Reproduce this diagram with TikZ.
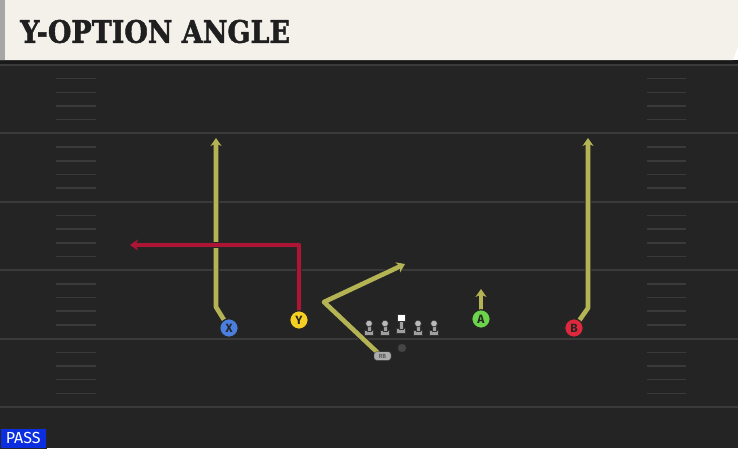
\documentclass[tikz,border=0pt]{standalone}
\usepackage{fontspec}
\usepackage{graphicx}
\usetikzlibrary{arrows.meta}
\newfontfamily\headfont{DejaVu Serif}[BoldFeatures={FakeBold=1.6}]
\newfontfamily\tagfont{Fira Sans}
\definecolor{field}{HTML}{242424}
\definecolor{header}{HTML}{F4F1EB}
\definecolor{yardline}{HTML}{3A3A3A}
\definecolor{routeolive}{HTML}{B5B455}
\definecolor{routered}{HTML}{AE1535}
\definecolor{passblue}{HTML}{0A2EE0}
\definecolor{xblue}{HTML}{4A7FE0}
\definecolor{yyellow}{HTML}{F5D022}
\definecolor{agreen}{HTML}{6CD44A}
\definecolor{bred}{HTML}{E0283C}

\begin{document}
\begin{tikzpicture}[x=1pt,y=-1pt,
  player/.style={circle,draw=black!85,line width=1.2pt,fill=#1,minimum size=18.5pt,
    inner sep=0pt,font=\tagfont\bfseries\fontsize{12}{12}\selectfont,text=black!85},
  route/.style={line width=4.6pt,draw=#1,line join=round,
    -{Stealth[length=8pt,width=11pt,inset=2.5pt]},
    preaction={draw=black!85,line width=6.6pt}},
  lineman/.style={fill=gray!75,draw=black!80,line width=0.7pt},
  hash/.style={draw=yardline,line width=1.5pt}]
\useasboundingbox (0,0) rectangle (738,448);

% field
\fill[field] (0,60) rectangle (738,448);
\foreach \i in {0,...,5}
  \draw[yardline,line width=2pt] (0,65+68.4*\i) -- (738,65+68.4*\i);
\foreach \i in {0,...,4}
  \foreach \k in {1,...,4} {
    \draw[hash] (56,65+68.4*\i+13.68*\k) -- (96,65+68.4*\i+13.68*\k);
    \draw[hash] (647,65+68.4*\i+13.68*\k) -- (686,65+68.4*\i+13.68*\k);
  }

% header
\fill[black!90] (0,60) rectangle (738,64);
\fill[header] (0,0) -- (738,0) -- (738,46) -- (733,60) -- (0,60) -- cycle;
\fill[gray!70] (0,0) rectangle (5,60);
\node[anchor=west,inner sep=0pt,text=black!88] (title) at (20,31.5)
  {\scalebox{0.87}[1]{\headfont\bfseries\fontsize{31}{31}\selectfont Y-OPTION ANGLE}};

% players
\coordinate (x) at (229,328);
\coordinate (y) at (299,320);
\coordinate (a) at (481,319);
\coordinate (b) at (574,328);
\coordinate (rb) at (378,353);

\draw[route=routeolive] (x) -- (216,307) -- (216,138);
\draw[route=routered] (y) -- (299,245) -- (130,245);
\draw[route=routeolive] (rb) -- (324,302) -- (405,264);
\draw[route=routeolive] (a) -- (481,289);
\draw[route=routeolive] (b) -- (588,308) -- (588,138);

\foreach \x in {369,385,418,434} {
  \draw[lineman] (\x-4.5,330) rectangle (\x+4.5,335);
  \draw[lineman] (\x-2,324) rectangle (\x+2,331);
  \draw[lineman,fill=gray!55] (\x,323.5) circle (3.4);
}
\draw[lineman] (396.5,328) rectangle (405.5,333);
\draw[lineman] (399,321) rectangle (403,329);
\draw[lineman,fill=white] (397.5,314) rectangle (405,321.5);
\draw[fill=gray!55!black,draw=black!80] (402,348) circle (4.2);

\node[player=xblue] (X) at (x) {X};
\node[player=yyellow] (Y) at (y) {Y};
\node[player=agreen] (A) at (a) {A};
\node[player=bred] (B) at (b) {B};
\node[fill=gray!65,draw=black!80,rounded corners=2.5pt,minimum width=17pt,
  minimum height=8.5pt,inner sep=0pt,font=\tagfont\fontsize{6}{6}\selectfont,
  text=black!80] (RB) at (382.5,356) {RB};

% play type
\node[fill=passblue,draw=black!85,anchor=south west,minimum width=46pt,
  minimum height=20pt,inner sep=0pt,text=white,
  font=\tagfont\fontsize{16}{16}\selectfont] (pass) at (0,448) {PASS};
\end{tikzpicture}
\end{document}
